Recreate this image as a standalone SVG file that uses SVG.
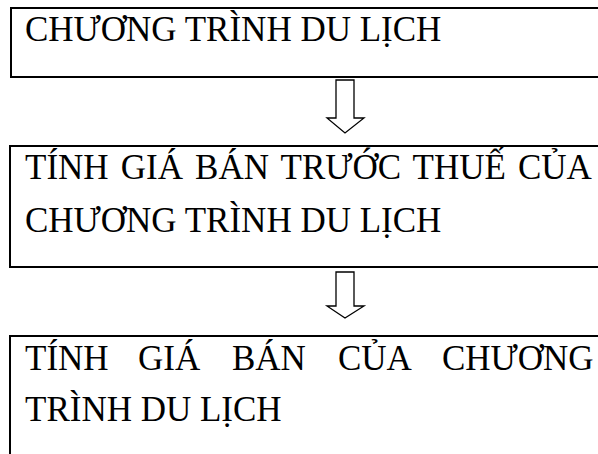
<svg xmlns="http://www.w3.org/2000/svg" width="598" height="454" viewBox="0 0 598 454">
<style>
.box{fill:#fff;stroke:#000;stroke-width:2}
.t{font-family:"Liberation Serif","Times New Roman",serif;font-size:35px;fill:#000}
.arr{fill:#fff;stroke:#000;stroke-width:1.3;stroke-linejoin:miter}
</style>
<rect width="598" height="454" fill="#fff"/>
<g id="node1">
<rect class="box" x="11" y="8" width="600" height="69"/>
<text class="t" x="25" y="41">CHƯƠNG TRÌNH DU LỊCH</text>
</g>
<g id="node2">
<rect class="box" x="10" y="146" width="600" height="121"/>
<text class="t" x="25" y="179" style="word-spacing:3.4px">TÍNH GIÁ BÁN TRƯỚC THUẾ CỦA</text>
<text class="t" x="25" y="232">CHƯƠNG TRÌNH DU LỊCH</text>
</g>
<g id="node3">
<rect class="box" x="10" y="336" width="600" height="130"/>
<text class="t" y="370"><tspan x="25">TÍNH</tspan><tspan x="138">GIÁ</tspan><tspan x="232">BÁN</tspan><tspan x="338">CỦA</tspan><tspan x="442">CHƯƠNG</tspan></text>
<text class="t" x="25" y="421">TRÌNH DU LỊCH</text>
</g>
<g id="connectors">
<path class="arr" d="M336,80 H354 V118 H364 L345,133 L327,118 H336 Z"/>
<path class="arr" d="M336,272 H354 V306 H364 L345,318 L327,306 H336 Z"/>
</g>
</svg>
